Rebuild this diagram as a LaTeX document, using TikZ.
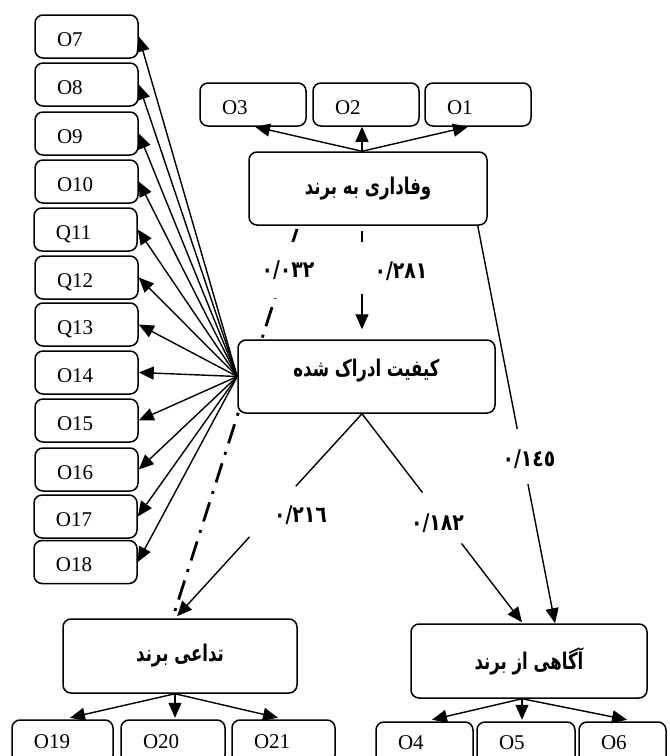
\documentclass[tikz,border=0pt]{standalone}
\usepackage{fontspec}
\setmainfont{Liberation Serif}
\newfontfamily\fafont[Script=Arabic, FakeStretch=0.72]{DejaVu Sans}
\newfontfamily\numfont[Script=Arabic, FakeStretch=0.82]{DejaVu Sans}
\TeXXeTstate=1
\usetikzlibrary{arrows.meta,calc}
\begin{document}
\begin{tikzpicture}[x=1pt,y=-1pt,
  box/.style={draw, line width=1.5pt, rounded corners=8pt, fill=white, inner sep=0pt},
  obox/.style={box, minimum height=43pt, align=left, inner xsep=22pt, inner ysep=0pt,
     text height=19pt, text depth=0pt, font=\fontsize{21}{21}\selectfont},
  lowtext/.style={text height=14pt},
  bigbox/.style={box, font=\fafont\bfseries\fontsize{23}{25}\selectfont},
  num/.style={font=\numfont\bfseries\fontsize{23}{24}\selectfont, inner sep=0pt},
  conn/.style={line width=1.4pt},
  arr/.style={conn, -{Triangle[length=15pt,width=13pt]}},
  dashdot/.style={line width=2.8pt, dash pattern=on 20pt off 9pt on 3pt off 9pt}
]
\useasboundingbox (0,0) rectangle (670,756);

% dash-dot connector (drawn first, hidden under boxes and labels)
\coordinate (ddA) at (297,229);
\coordinate (ddB) at (173,617);
\draw[dashdot] (ddA) -- (ddB);

% main boxes
\node[bigbox, minimum width=238pt, minimum height=73pt] (loy) at (368,188.5) {\beginR وفاداری به برند\endR};
\node[bigbox, minimum width=257pt, minimum height=73pt, text depth=18pt] (qual) at (366.5,376.5) {\beginR کیفیت ادراک شده\endR};
\node[bigbox, minimum width=234pt, minimum height=74pt] (asso) at (180,656) {\beginR تداعی برند\endR};
\node[bigbox, minimum width=236pt, minimum height=74pt] (awar) at (529,661) {\beginR آگاهی از برند\endR};

% top indicator boxes
\node[obox, text width=62pt] (o3) at (253,104.5) {O3};
\node[obox, text width=62pt] (o2) at (366,104.5) {O2};
\node[obox, text width=62pt] (o1) at (478,104.5) {O1};

% left indicator boxes
\node[obox, text width=59pt] (o7)  at (86.5,36.5)  {O7};
\node[obox, text width=59pt] (o8)  at (86.5,84.5)  {O8};
\node[obox, text width=59pt] (o9)  at (86.5,133.5) {O9};
\node[obox, text width=59pt] (o10) at (86.5,181.5) {O10};
\node[obox, text width=59pt] (q11) at (85.5,229.5) {Q11};
\node[obox, text width=59pt] (q12) at (86.5,277.5) {Q12};
\node[obox, text width=59pt] (q13) at (86.5,324.5) {Q13};
\node[obox, text width=59pt] (o14) at (86.5,372.5) {O14};
\node[obox, text width=59pt] (o15) at (86.5,420.5) {O15};
\node[obox, text width=59pt] (o16) at (86.5,469.5) {O16};
\node[obox, text width=59pt] (o17) at (85.5,516.5) {O17};
\node[obox, text width=59pt] (o18) at (85.5,562)   {O18};

% bottom indicator boxes
\node[obox, lowtext, text width=57pt] (o19) at (62.5,741.5) {O19};
\node[obox, lowtext, text width=60pt] (o20) at (173,741.5)  {O20};
\node[obox, lowtext, text width=59pt] (o21) at (283.5,741.5) {O21};
\node[obox, lowtext, text height=12pt, text width=53pt] (o4)  at (424.5,743.5) {O4};
\node[obox, lowtext, text height=12pt, text width=54pt] (o5)  at (526,743.5)  {O5};
\node[obox, lowtext, text height=12pt, text width=43pt] (o6)  at (622.5,743.5) {O6};

% loyalty -> O1..O3
\coordinate (loyTop) at ($(loy.north)+(-6,0)$);
\draw[arr] (loyTop) -- ($(o3.south)+(2,0)$);
\draw[arr] (loyTop) -- ($(o2.south)+(-4,0)$);
\draw[arr] (loyTop) -- ($(o1.south)+(-10,0)$);

% perceived quality -> left indicators
\coordinate (hub) at (qual.west);
\foreach \n in {o7,o8,o9,o10,q11,q12,q13,o14,o15,o16,o17,o18}
  \draw[arr] (hub) -- (\n.east);

% association -> O19..O21
\coordinate (assoBot) at ($(asso.south)+(-5,0)$);
\draw[arr] (assoBot) -- ($(o19.north)+(7.5,-1.5)$);
\draw[arr] (assoBot) -- ($(o20.north)+(2,-1.5)$);
\draw[arr] (assoBot) -- ($(o21.north)+(-5.5,-1.5)$);

% awareness -> O4..O6
\coordinate (awarBot) at ($(awar.south)+(-7,0)$);
\draw[arr] (awarBot) -- ($(o4.north)+(7.5,-1.5)$);
\draw[arr] (awarBot) -- ($(o5.north)+(-4,-1.5)$);
\draw[arr] (awarBot) -- ($(o6.north)+(4.5,-1.5)$);

% loyalty -> perceived quality (0.281)
\coordinate (a281) at ($(loy.south)+(-6,5)$);
\coordinate (b281) at ($(qual.north)+(-4.5,-10)$);
\draw[conn] (a281) -- ($(a281)!0.11!(b281)$);
\draw[arr] ($(a281)!0.64!(b281)$) -- (b281);
\node[num] (n281) at (401,271) {٠/٢٨١};

% loyalty -> association (0.032), label
\node[num, fill=white, inner sep=3pt, minimum height=56pt] (n032) at (288,270) {٠/٠٣٢};

% loyalty -> awareness (0.145)
\coordinate (a145) at ($(loy.south east)+(-10,0)$);
\coordinate (b145) at ($(awar.north)+(26,0)$);
\draw[conn] (a145) -- ($(a145)!0.511!(b145)$);
\draw[arr] ($(a145)!0.65!(b145)$) -- (b145);
\node[num] (n145) at (529,459) {٠/١٤٥};

% perceived quality -> awareness (0.182)
\coordinate (qBot) at ($(qual.south)+(-4.5,0)$);
\coordinate (b182) at ($(awar.north)+(-7,-1)$);
\draw[conn] (qBot) -- ($(qBot)!0.378!(b182)$);
\draw[arr] ($(qBot)!0.622!(b182)$) -- (b182);
\node[num] (n182) at (437.5,523) {٠/١٨٢};

% perceived quality -> association (0.216)
\coordinate (b216) at ($(asso.north)+(-3,-2)$);
\draw[conn] (qBot) -- ($(qBot)!0.358!(b216)$);
\draw[arr] ($(qBot)!0.608!(b216)$) -- (b216);
\node[num] (n216) at (300.5,515) {٠/٢١٦};

\end{tikzpicture}
\end{document}
